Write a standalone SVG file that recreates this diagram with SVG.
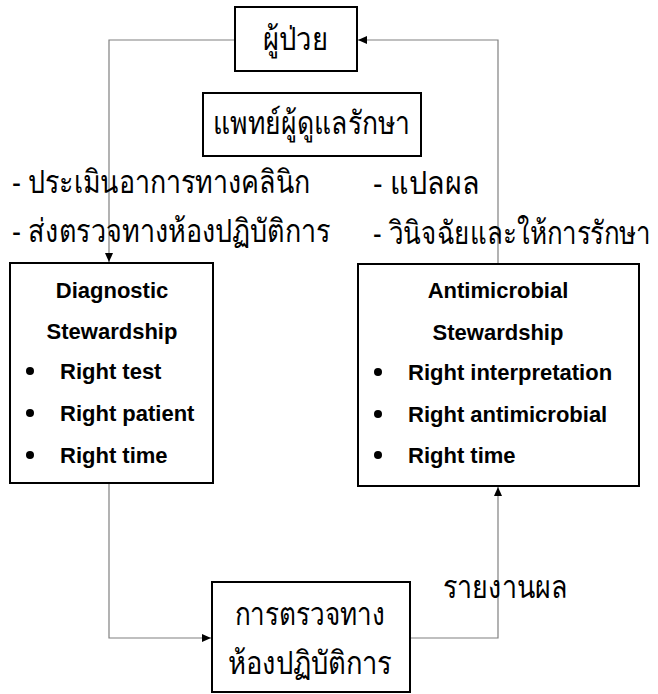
<svg xmlns="http://www.w3.org/2000/svg" width="658" height="694" viewBox="0 0 658 694">
  <style>
    .box { fill: #ffffff; stroke: #000000; stroke-width: 2; }
    .conn { fill: none; stroke: #808080; stroke-width: 1.2; }
    .th { font-family: "Liberation Sans", "Noto Sans", sans-serif; font-size: 32px; fill: #000000; }
    .en { font-family: "Liberation Sans", Arial, sans-serif; font-size: 22px; font-weight: bold; fill: #000000; }
  </style>
  <defs>
    <marker id="arrow" markerWidth="10" markerHeight="10" refX="9" refY="5" orient="auto" markerUnits="userSpaceOnUse">
      <path d="M0,1 L9,5 L0,9 Z" fill="#000000"/>
    </marker>
  </defs>

  <g id="connectors">
    <!-- patient -> diagnostic stewardship -->
    <path class="conn" d="M235,40 H109 V262" marker-end="url(#arrow)"/>
    <!-- antimicrobial stewardship -> patient -->
    <path class="conn" d="M498,264 V40 H358" marker-end="url(#arrow)"/>
    <!-- diagnostic stewardship -> laboratory -->
    <path class="conn" d="M109,483 V638 H211" marker-end="url(#arrow)"/>
    <!-- laboratory -> antimicrobial stewardship -->
    <path class="conn" d="M410,638 H498 V487" marker-end="url(#arrow)"/>
  </g>

  <g id="patient">
    <rect class="box" x="235" y="7" width="122" height="64"/>
    <text class="th" x="263" y="50" textLength="65" lengthAdjust="spacingAndGlyphs">ผู้ป่วย</text>
  </g>

  <g id="physician">
    <rect class="box" x="203" y="93" width="218" height="63"/>
    <text class="th" x="213" y="134" textLength="197" lengthAdjust="spacingAndGlyphs">แพทย์ผู้ดูแลรักษา</text>
  </g>

  <g id="labels-left">
    <text class="th" x="12" y="193" textLength="298" lengthAdjust="spacingAndGlyphs">- ประเมินอาการทางคลินิก</text>
    <text class="th" x="12" y="242" textLength="318" lengthAdjust="spacingAndGlyphs">- ส่งตรวจทางห้องปฏิบัติการ</text>
  </g>

  <g id="labels-right">
    <text class="th" x="373" y="194" textLength="107" lengthAdjust="spacingAndGlyphs">- แปลผล</text>
    <text class="th" x="373" y="244" textLength="278" lengthAdjust="spacingAndGlyphs">- วินิจฉัยและให้การรักษา</text>
  </g>

  <g id="diagnostic-stewardship">
    <rect class="box" x="10" y="263" width="203" height="220"/>
    <text class="en" x="112" y="298" text-anchor="middle">Diagnostic</text>
    <text class="en" x="112" y="339" text-anchor="middle">Stewardship</text>
    <circle cx="30" cy="371" r="4"/>
    <text class="en" x="60" y="379">Right test</text>
    <circle cx="30" cy="413" r="4"/>
    <text class="en" x="60" y="421">Right patient</text>
    <circle cx="30" cy="455" r="4"/>
    <text class="en" x="60" y="463">Right time</text>
  </g>

  <g id="antimicrobial-stewardship">
    <rect class="box" x="358" y="264" width="281" height="222"/>
    <text class="en" x="498" y="298" text-anchor="middle">Antimicrobial</text>
    <text class="en" x="498" y="340" text-anchor="middle">Stewardship</text>
    <circle cx="378" cy="372" r="4"/>
    <text class="en" x="408" y="380">Right interpretation</text>
    <circle cx="378" cy="414" r="4"/>
    <text class="en" x="408" y="422">Right antimicrobial</text>
    <circle cx="378" cy="455" r="4"/>
    <text class="en" x="408" y="463">Right time</text>
  </g>

  <g id="report-label">
    <text class="th" x="443" y="598" textLength="125" lengthAdjust="spacingAndGlyphs">รายงานผล</text>
  </g>

  <g id="laboratory">
    <rect class="box" x="212" y="582" width="198" height="110"/>
    <text class="th" x="235" y="625" textLength="150" lengthAdjust="spacingAndGlyphs">การตรวจทาง</text>
    <text class="th" x="228" y="674" textLength="164" lengthAdjust="spacingAndGlyphs">ห้องปฏิบัติการ</text>
  </g>
</svg>
